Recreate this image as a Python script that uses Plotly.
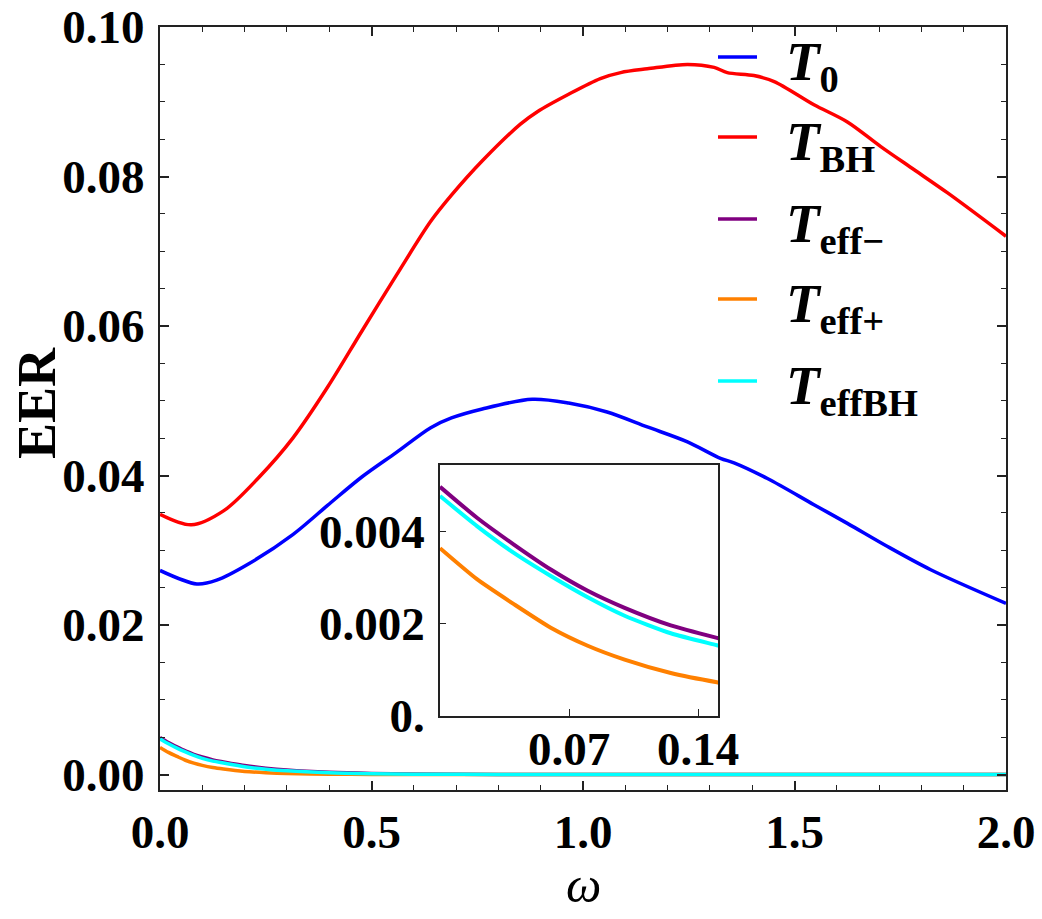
import plotly.graph_objects as go

# ---------------- data ----------------
omega_T0 = [0.0, 0.087, 0.134, 0.213, 0.314, 0.396, 0.477, 0.559, 0.640, 0.689,
            0.762, 0.880, 0.966, 1.057, 1.152, 1.247, 1.325, 1.357, 1.436, 1.546, 1.625,
            1.720, 1.822, 2.0]
eer_T0 = [0.0273, 0.0255, 0.0260, 0.0283, 0.0321, 0.0360, 0.0398, 0.0431, 0.0464,
          0.0477, 0.0489, 0.0502, 0.0497, 0.0485, 0.0465, 0.0445, 0.0423, 0.0417, 0.0396,
          0.0361, 0.0336, 0.0305, 0.0274, 0.0229]

omega_TBH = [0.0, 0.074, 0.151, 0.233, 0.314, 0.396, 0.477, 0.559, 0.640, 0.689, 0.762,
             0.852, 0.893, 0.966, 1.041, 1.089, 1.152, 1.247, 1.310, 1.341, 1.404,
             1.452, 1.546, 1.625, 1.704, 1.783, 1.862, 2.0]
eer_TBH = [0.0348, 0.0334, 0.0353, 0.0397, 0.0450, 0.0518, 0.0593, 0.0668, 0.0740, 0.0775,
           0.0821, 0.0870, 0.0887, 0.0910, 0.0931, 0.0939, 0.0944, 0.0950, 0.0946,
           0.0939, 0.0935, 0.0927, 0.0896, 0.0873, 0.0840, 0.0809, 0.0778, 0.0720]

omega_low = [0.0, 0.02, 0.04, 0.06, 0.08, 0.10, 0.125, 0.15, 0.2, 0.25, 0.3, 0.4, 0.5,
             0.6, 0.8, 1.0, 1.5, 2.0]
eer_Teff_minus = [0.00496, 0.00429, 0.00371, 0.00317, 0.00271, 0.00234, 0.00196, 0.00169,
                  0.00120, 0.00085, 0.00060, 0.00030, 0.00015, 0.00008, 0.00002, 0.000005,
                  0.0, 0.0]
eer_Teff_plus = [0.00363, 0.00296, 0.00242, 0.00191, 0.00152, 0.00122, 0.00093, 0.00073,
                 0.00042, 0.00025, 0.00014, 0.00005, 0.00002, 0.000008, 0.000001, 0.0,
                 0.0, 0.0]
eer_TeffBH = [0.00476, 0.00411, 0.00353, 0.00303, 0.00257, 0.00217, 0.00179, 0.00153,
              0.00104, 0.00072, 0.00049, 0.00023, 0.00011, 0.00005, 0.00001, 0.000003,
              0.0, 0.0]

series_names = ["<i>T</i><sub>0</sub>", "<i>T</i><sub>BH</sub>", "<i>T</i><sub>eff\u2212</sub>",
                "<i>T</i><sub>eff+</sub>", "<i>T</i><sub>effBH</sub>"]
series_colors = ["#0000FF", "#FF0000", "#800080", "#FF8000", "#00FFFF"]

main_yticks = [0.0, 0.02, 0.04, 0.06, 0.08, 0.10]
main_xticks = [0.0, 0.5, 1.0, 1.5, 2.0]
inset_xticks = [0.07, 0.14]
inset_xticklabels = ["0.07", "0.14"]
inset_yticks = [0.0, 0.002, 0.004]
inset_yticklabels = ["0.", "0.002", "0.004"]

FONT = "Liberation Serif"
LW = 3.5

fig = go.Figure()

main_series = [
    (omega_T0, eer_T0),
    (omega_TBH, eer_TBH),
    (omega_low, eer_Teff_minus),
    (omega_low, eer_Teff_plus),
    (omega_low, eer_TeffBH),
]
for (xs, ys), name, col in zip(main_series, series_names, series_colors):
    fig.add_trace(go.Scatter(x=xs, y=ys, mode="lines", name=name,
                             line=dict(color=col, width=LW, shape="spline", smoothing=0.9),
                             showlegend=False, xaxis="x", yaxis="y"))

# inset traces
for (xs, ys), col in zip(main_series[2:], series_colors[2:]):
    fig.add_trace(go.Scatter(x=xs, y=ys, mode="lines",
                             line=dict(color=col, width=LW + 0.5, shape="spline", smoothing=0.6),
                             showlegend=False, xaxis="x2", yaxis="y2", cliponaxis=True))

tickfont = dict(family=FONT, size=47, color="black", weight="bold")

fig.update_layout(
    width=1042, height=919,
    margin=dict(l=160, r=36, t=27, b=129, autoexpand=False),
    paper_bgcolor="white", plot_bgcolor="white",
    xaxis=dict(range=[0, 2.0], domain=[0, 1], tickvals=main_xticks, automargin=False,
               tickformat=".1f", showgrid=False, zeroline=False,
               showline=True, linecolor="#222", linewidth=2, mirror="ticks",
               ticks="inside", ticklen=9, tickwidth=1.5, tickcolor="#222",
               minor=dict(ticks="inside", dtick=0.1, ticklen=5, tickwidth=1.2, tickcolor="#222"),
               tickfont=tickfont, ticklabelstandoff=0),
    yaxis=dict(range=[-0.00207, 0.1], domain=[0, 1], tickvals=main_yticks, automargin=False,
               tickformat=".2f", showgrid=False, zeroline=False,
               showline=True, linecolor="#222", linewidth=2, mirror="ticks",
               ticks="inside", ticklen=9, tickwidth=1.5, tickcolor="#222",
               minor=dict(ticks="inside", dtick=0.005, ticklen=5, tickwidth=1.2, tickcolor="#222"),
               tickfont=tickfont, ticklabelstandoff=4),
    xaxis2=dict(range=[0, 0.1506], domain=[0.331, 0.6596], anchor="y2", automargin=False,
                tickvals=inset_xticks, ticktext=["", ""],
                showgrid=False, zeroline=False, showline=True, linecolor="#222",
                linewidth=1.8, mirror=True, ticks="inside", ticklen=7, tickwidth=1.3,
                tickcolor="#222", tickfont=tickfont),
    yaxis2=dict(range=[0, 0.005432], domain=[0.097, 0.426], anchor="x2", automargin=False,
                tickvals=inset_yticks, ticktext=inset_yticklabels,
                showgrid=False, zeroline=False, showline=True, linecolor="#222",
                linewidth=1.8, mirror=True, ticks="inside", ticklen=6, tickwidth=1.3,
                tickcolor="#222", tickfont=tickfont, ticklabelstandoff=4),
)

# helpers: plot-area pixels -> paper coordinates
def px2x(px):
    return (px - 160) / 846.0

def px2y(py):
    return (790 - py) / 763.0

# inset x tick labels (sit well below the inset frame, as in the reference)
for tv, tt in zip(inset_xticks, inset_xticklabels):
    fig.add_annotation(xref="x2", yref="paper", x=tv, y=px2y(749),
                       xanchor="center", yanchor="middle", showarrow=False,
                       text="<b>" + tt + "</b>", font=dict(family=FONT, size=47, color="black"))

# custom legend
legend_rows = [57, 137, 219, 299, 381]
for name, col, ry in zip(series_names, series_colors, legend_rows):
    fig.add_shape(type="line", xref="paper", yref="paper",
                  x0=px2x(718), x1=px2x(757), y0=px2y(ry), y1=px2y(ry),
                  line=dict(color=col, width=LW))
    fig.add_annotation(xref="paper", yref="paper", x=px2x(784), y=px2y(ry + 8),
                       xanchor="left", yanchor="middle", showarrow=False,
                       text="<b>" + name + "</b>",
                       font=dict(family=FONT, size=55, color="black"))

# axis titles
fig.add_annotation(xref="paper", yref="paper", x=px2x(37), y=px2y(403),
                   xanchor="center", yanchor="middle", showarrow=False, textangle=-90,
                   text="<b>EER</b>", font=dict(family=FONT, size=54, color="black"))
fig.add_annotation(xref="paper", yref="paper", x=px2x(583), y=px2y(885),
                   xanchor="center", yanchor="middle", showarrow=False,
                   text="<i>\u03c9</i>", font=dict(family=FONT, size=50, color="black"))

fig.write_html("out.html")
